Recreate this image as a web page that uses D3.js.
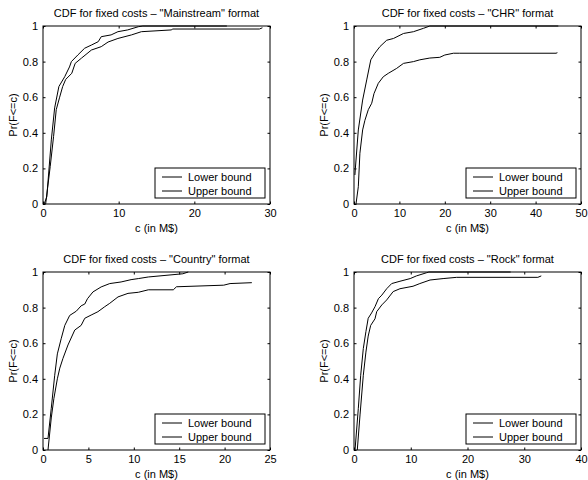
<!DOCTYPE html>
<html><head><meta charset="utf-8">
<script src="https://cdn.jsdelivr.net/npm/d3@7"></script>
<style>body{margin:0;background:#fff} text{font-family:"Liberation Sans",Arial,Helvetica,sans-serif;fill:#000}</style>
</head><body><svg id="chart" width="588" height="480"></svg>
<script>
// ---------- data ----------
const formats = ["Mainstream", "CHR", "Country", "Rock"];
const xMaxes = [30, 50, 25, 40];
const xTicks = [[0,10,20,30], [0,10,20,30,40,50], [0,5,10,15,20,25], [0,10,20,30,40]];
const yTicks = [0, 0.2, 0.4, 0.6, 0.8, 1];
const seriesNames = ["Lower bound", "Upper bound"];

const mainstreamLowerC = [0.35,0.95,1.4,1.75,2.2,2.6,3.0,3.8,4.25,5.1,6.4,7.7,8.6,9.9,11.7,13,17,17.1,28.6,29];
const mainstreamLowerP = [0,0.21,0.38,0.53,0.60,0.66,0.70,0.734,0.79,0.82,0.865,0.884,0.91,0.93,0.95,0.968,0.978,0.983,0.983,0.99];
const mainstreamUpperC = [0.15,0.5,1.1,1.54,2.1,2.87,3.5,3.75,4.6,5.5,6.4,7.3,7.7,9.0,9.9,11.2,12.6,13.2,24.3];
const mainstreamUpperP = [0,0.04,0.36,0.54,0.66,0.715,0.77,0.80,0.837,0.875,0.893,0.912,0.94,0.95,0.968,0.978,0.996,1,1];

const chrLowerC = [0.44,0.95,1.3,1.9,2.4,3.15,3.9,4.4,5.35,6.45,7.55,9.4,10.9,13.1,14.5,16.7,18.9,20,21.9,23.3,44.5,44.8];
const chrLowerP = [0,0.097,0.285,0.416,0.47,0.53,0.566,0.62,0.678,0.715,0.734,0.762,0.79,0.80,0.81,0.82,0.824,0.837,0.847,0.847,0.847,0.85];
const chrUpperC = [0.2,0.3,0.95,1.9,2.8,3.7,4.6,5.7,7.2,8.7,10.9,13.1,15.3,16.7,45];
const chrUpperP = [0.163,0.2,0.416,0.584,0.697,0.81,0.847,0.884,0.92,0.93,0.958,0.968,0.987,1,1];

const countryLowerC = [0.55,0.91,1.2,1.58,1.85,2.2,2.75,3.5,4.2,4.6,5.3,6.05,6.8,7.35,8.26,9.36,10.5,11.6,14.35,14.7,19.9,20.6,23];
const countryLowerP = [0.0,0.18,0.29,0.40,0.46,0.515,0.59,0.674,0.70,0.74,0.758,0.777,0.805,0.824,0.86,0.88,0.886,0.90,0.90,0.917,0.926,0.935,0.94];
const countryUpperC = [0.11,0.55,0.91,1.29,1.58,2.0,2.4,2.94,3.67,4.2,4.6,4.9,5.5,6.4,7.35,8.6,9.7,10.5,11.6,15.4,16];
const countryUpperP = [0.065,0.065,0.234,0.42,0.54,0.625,0.70,0.756,0.78,0.81,0.82,0.85,0.888,0.916,0.935,0.944,0.957,0.963,0.972,0.99,1];

const rockLowerC = [0.58,1.06,1.64,2.1,2.5,2.94,3.7,4.0,4.9,5.76,6.9,8.1,10.4,11.6,13.4,15.7,18.1,32.4,33];
const rockLowerP = [0.0,0.197,0.42,0.55,0.64,0.70,0.737,0.777,0.815,0.843,0.89,0.906,0.92,0.935,0.955,0.963,0.97,0.97,0.978];
const rockUpperC = [0.18,0.76,1.18,1.64,2.1,2.5,3.1,3.7,4.3,4.9,5.76,6.64,8.1,9.9,11.0,12.8,13.2,27.6];
const rockUpperP = [0.0,0.234,0.42,0.57,0.665,0.74,0.77,0.805,0.85,0.87,0.906,0.935,0.948,0.963,0.978,0.996,1,1];

const lowerC = [mainstreamLowerC, chrLowerC, countryLowerC, rockLowerC];
const lowerP = [mainstreamLowerP, chrLowerP, countryLowerP, rockLowerP];
const upperC = [mainstreamUpperC, chrUpperC, countryUpperC, rockUpperC];
const upperP = [mainstreamUpperP, chrUpperP, countryUpperP, rockUpperP];

// ---------- layout ----------
const boxes = [
  {x0:43, x1:270, y0:26, y1:204},
  {x0:354, x1:581, y0:26, y1:204},
  {x0:43, x1:270, y0:272, y1:450},
  {x0:354, x1:581, y0:272, y1:450}
];
const svg = d3.select("#chart");
const fs = 11;

formats.forEach((fmt, i) => {
  const b = boxes[i];
  const x = d3.scaleLinear().domain([0, xMaxes[i]]).range([b.x0, b.x1]);
  const y = d3.scaleLinear().domain([0, 1]).range([b.y1, b.y0]);
  const g = svg.append("g");

  // curves
  const line = d3.line().x(d => x(d[0])).y(d => y(d[1]));
  const lo = lowerC[i].map((c, k) => [c, lowerP[i][k]]);
  const up = upperC[i].map((c, k) => [c, upperP[i][k]]);
  [lo, up].forEach(pts => {
    g.append("path").attr("d", line(pts)).attr("fill", "none")
      .attr("stroke", "#000").attr("stroke-width", 1);
  });

  // axes (ticks inside, mirrored)
  const tl = 2.5;
  const xb = d3.axisBottom(x).tickValues(xTicks[i]).tickSize(-tl).tickPadding(5).tickFormat(d => String(d));
  const xt = d3.axisTop(x).tickValues(xTicks[i]).tickSize(-tl).tickFormat("");
  const yl = d3.axisLeft(y).tickValues(yTicks).tickSize(-tl).tickPadding(5).tickFormat(d => String(d));
  const yr = d3.axisRight(y).tickValues(yTicks).tickSize(-tl).tickFormat("");
  const ax = [
    g.append("g").attr("transform", `translate(0,${b.y1})`).call(xb),
    g.append("g").attr("transform", `translate(0,${b.y0})`).call(xt),
    g.append("g").attr("transform", `translate(${b.x0},0)`).call(yl),
    g.append("g").attr("transform", `translate(${b.x1},0)`).call(yr)
  ];
  ax.forEach(a => {
    a.select(".domain").remove();
    a.selectAll("line").attr("stroke", "#000");
    a.selectAll("text").style("font-size", fs + "px").attr("fill", "#000")
      .style("font-family", '"Liberation Sans",Arial,sans-serif');
  });
  g.append("rect").attr("x", b.x0).attr("y", b.y0).attr("width", b.x1 - b.x0).attr("height", b.y1 - b.y0)
    .attr("fill", "none").attr("stroke", "#000").attr("stroke-width", 1);

  const cx = (b.x0 + b.x1) / 2;
  g.append("text").attr("x", cx).attr("y", b.y0 - 9).attr("text-anchor", "middle")
    .style("font-size", fs + "px").text(`CDF for fixed costs \u2013 "${fmt}" format`);
  g.append("text").attr("x", cx).attr("y", b.y1 + 28).attr("text-anchor", "middle")
    .style("font-size", fs + "px").text("c (in M$)");
  g.append("text").attr("transform", `translate(${b.x0 - 26},${(b.y0 + b.y1) / 2}) rotate(-90)`)
    .attr("text-anchor", "middle").style("font-size", fs + "px").text("Pr(F<=c)");

  // legend
  const lw = 110, lh = 30;
  const lx = b.x1 - 5 - lw, ly = b.y1 - 6 - lh;
  const lg = g.append("g").attr("transform", `translate(${lx},${ly})`);
  lg.append("rect").attr("width", lw).attr("height", lh).attr("fill", "#fff").attr("stroke", "#000");
  seriesNames.forEach((nm, k) => {
    const yy = 9 + k * 14;
    lg.append("line").attr("x1", 7).attr("x2", 27).attr("y1", yy).attr("y2", yy).attr("stroke", "#000");
    lg.append("text").attr("x", 33).attr("y", yy).attr("dy", "0.35em").style("font-size", fs + "px").text(nm);
  });
});
</script></body></html>
